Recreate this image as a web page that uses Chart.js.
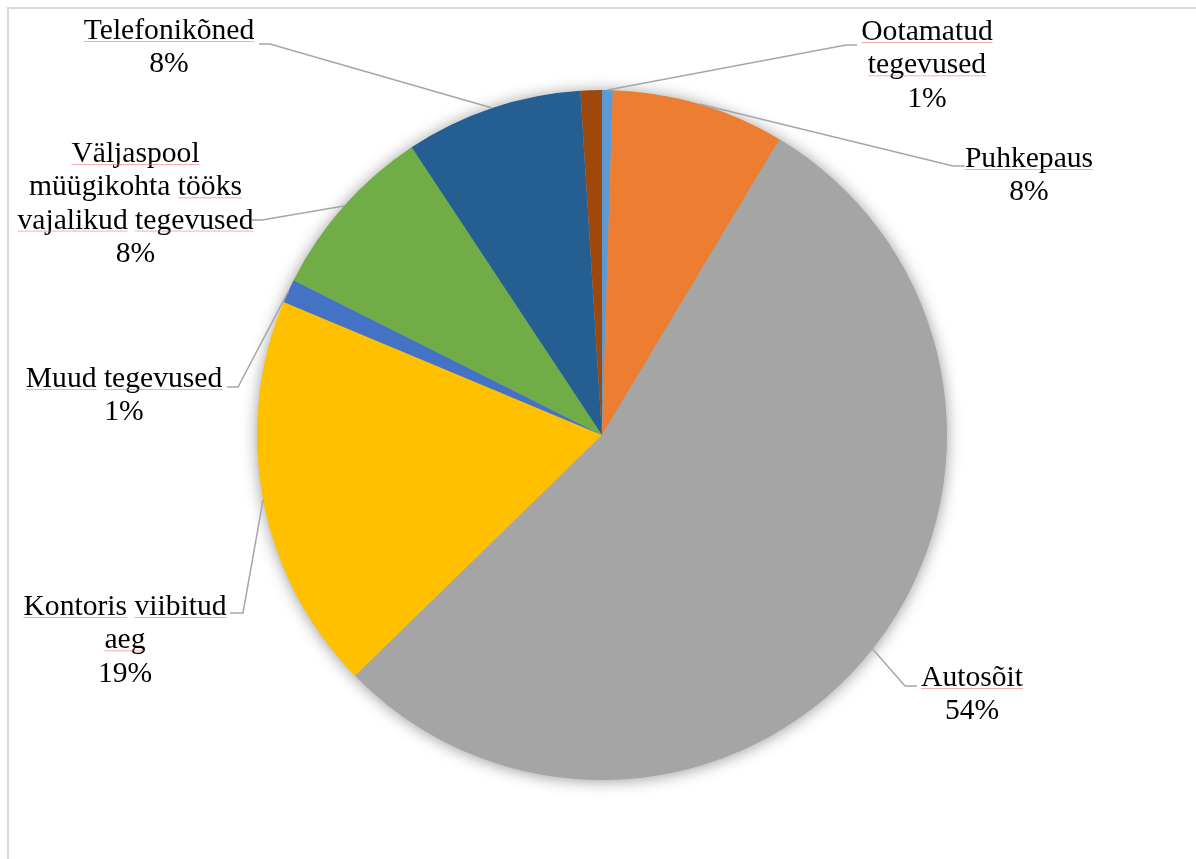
<!DOCTYPE html>
<html lang="et">
<head>
<meta charset="utf-8">
<title>Tööaja jaotus</title>
<script src="https://cdn.jsdelivr.net/npm/chart.js@4/dist/chart.umd.min.js"></script>
<style>
  html, body { margin: 0; padding: 0; background: #ffffff; }
  #wrap { position: relative; width: 1196px; height: 859px; overflow: hidden; }
  #frame {
    position: absolute; left: 7px; top: 7px; width: 1300px; height: 1000px;
    border-top: 2px solid #d9d9d9; border-left: 2px solid #d9d9d9; box-sizing: border-box;
  }
  canvas { position: absolute; left: 0; top: 0; }
</style>
</head>
<body>
<div id="wrap">
  <div id="frame"></div>
  <canvas id="pie" width="1196" height="859"></canvas>
</div>
<script>
// Categories, clockwise from 12 o'clock
const categories = [
  'Ootamatud tegevused',
  'Puhkepaus',
  'Autosõit',
  'Kontoris viibitud aeg',
  'Muud tegevused',
  'Väljaspool müügikohta tööks vajalikud tegevused',
  'Telefonikõned',
  ''
];
// Share of working time, %
const shares = [0.5, 8.1, 54.1, 18.6, 1.1, 8.3, 8.3, 1.0];
const sliceColors = ['#5B9BD5', '#ED7D31', '#A5A5A5', '#FFC000', '#4472C4', '#70AD47', '#255E91', '#9E480E'];

// Words flagged by the spell checker (red underline)
const flaggedWords = ['Telefonikõned', 'Ootamatud', 'tegevused', 'Puhkepaus', 'Väljaspool',
  'tööks', 'vajalikud', 'Muud', 'Kontoris', 'viibitud', 'aeg', 'Autosõit'];

// Label boxes: text centre x, first baseline y, wrap width, leader elbow and leader end
const labelLayout = [
  { cx: 927,   y: 40,  wrap: 140, elbow: [846, 45],  end: [857, 45] },
  { cx: 1029,  y: 167, wrap: 300, elbow: [953, 166], end: [965, 166] },
  { cx: 972,   y: 686, wrap: 300, elbow: [905, 686], end: [917, 686] },
  { cx: 125,   y: 615, wrap: 232, elbow: [243, 613], end: [230, 613] },
  { cx: 124,   y: 387, wrap: 300, elbow: [238, 387], end: [227, 387] },
  { cx: 135.5, y: 162, wrap: 242, elbow: [262, 220], end: [252, 220] },
  { cx: 169,   y: 39,  wrap: 300, elbow: [270, 44],  end: [259, 44] },
  null
];

const FONT = '29.6px "Liberation Serif", "Times New Roman", serif';
const LINE_H = 33.3;

function wrapText(ctx, text, maxW) {
  const words = text.split(' ');
  const lines = [];
  let cur = '';
  for (const w of words) {
    const test = cur ? cur + ' ' + w : w;
    if (cur && ctx.measureText(test).width > maxW) {
      lines.push(cur);
      cur = w;
    } else {
      cur = test;
    }
  }
  if (cur) lines.push(cur);
  return lines;
}

// Soft shadow under the whole pie
const pieShadow = {
  id: 'pieShadow',
  beforeDatasetsDraw(chart) {
    const arc = chart.getDatasetMeta(0).data[0];
    if (!arc) return;
    const ctx = chart.ctx;
    ctx.save();
    ctx.shadowColor = 'rgba(0,0,0,0.42)';
    ctx.shadowBlur = 16;
    ctx.shadowOffsetX = 0;
    ctx.shadowOffsetY = 1;
    ctx.fillStyle = '#a5a5a5';
    ctx.beginPath();
    ctx.arc(arc.x, arc.y, arc.outerRadius - 0.5, 0, Math.PI * 2);
    ctx.fill();
    ctx.restore();
  }
};

// Category + percentage labels with leader lines
const outsideLabels = {
  id: 'outsideLabels',
  afterDatasetsDraw(chart) {
    const ctx = chart.ctx;
    const meta = chart.getDatasetMeta(0);
    const values = chart.data.datasets[0].data;
    const total = values.reduce((a, b) => a + b, 0);
    ctx.save();
    ctx.font = FONT;
    meta.data.forEach((arc, i) => {
      const lay = labelLayout[i];
      const name = chart.data.labels[i];
      if (!lay || !name) return;
      const { x, y, startAngle, endAngle, outerRadius } = arc.getProps(['x', 'y', 'startAngle', 'endAngle', 'outerRadius'], true);
      const mid = (startAngle + endAngle) / 2;
      const px = x + Math.cos(mid) * outerRadius;
      const py = y + Math.sin(mid) * outerRadius;

      // leader line
      ctx.strokeStyle = '#a6a6a6';
      ctx.lineWidth = 1.5;
      ctx.beginPath();
      ctx.moveTo(px, py);
      ctx.lineTo(lay.elbow[0], lay.elbow[1]);
      ctx.lineTo(lay.end[0], lay.end[1]);
      ctx.stroke();

      // text
      const pct = Math.round(Number((values[i] / total * 100).toFixed(6)));
      const lines = wrapText(ctx, name, lay.wrap);
      lines.push(pct + '%');
      ctx.textAlign = 'left';
      ctx.textBaseline = 'alphabetic';
      lines.forEach((line, k) => {
        const by = lay.y + k * LINE_H;
        const lw = ctx.measureText(line).width;
        const left = lay.cx - lw / 2;
        ctx.fillStyle = '#000000';
        ctx.fillText(line, left, by);
        // spell-check underline
        let offset = 0;
        line.split(' ').forEach((word) => {
          const ww = ctx.measureText(word).width;
          if (flaggedWords.includes(word)) {
            ctx.strokeStyle = 'rgba(235,110,110,0.55)';
            ctx.lineWidth = 1;
            ctx.beginPath();
            ctx.moveTo(left + offset, by + 2.5);
            ctx.lineTo(left + offset + ww, by + 2.5);
            ctx.stroke();
          }
          offset += ww + ctx.measureText(' ').width;
        });
      });
    });
    ctx.restore();
  }
};

new Chart(document.getElementById('pie'), {
  type: 'pie',
  data: {
    labels: categories,
    datasets: [{
      data: shares,
      backgroundColor: sliceColors,
      borderWidth: 0,
      hoverBorderWidth: 0,
      offset: 0,
      hoverOffset: 0
    }]
  },
  options: {
    responsive: false,
    animation: false,
    events: [],
    rotation: 0,
    radius: 345,
    layout: { padding: { left: 257, right: 249, top: 90, bottom: 79 } },
    plugins: {
      legend: { display: false },
      tooltip: { enabled: false }
    }
  },
  plugins: [pieShadow, outsideLabels]
});
</script>
</body>
</html>
